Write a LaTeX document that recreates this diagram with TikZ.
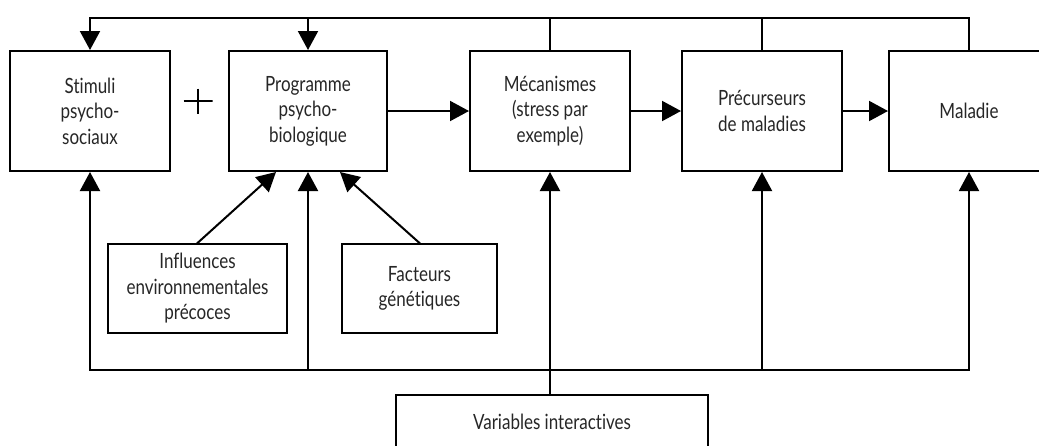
\documentclass[tikz,border=0pt]{standalone}
\usepackage{fontspec}
\setmainfont[FakeStretch=0.81, Ligatures=NoCommon]{Lato}
\usepackage{tikz}
\usetikzlibrary{arrows.meta, positioning, calc}

\begin{document}
\begin{tikzpicture}[x=1pt, y=-1pt,
  bloc/.style={draw, line width=2pt, minimum width=160pt, minimum height=120pt,
    align=center, inner sep=0pt, text=black!85, font=\fontsize{21}{25.5}\selectfont},
  fl/.style={-{Triangle[length=19pt,width=20pt]}, line width=2pt, line cap=rect},
  trait/.style={line width=2pt, line cap=rect},
  croix/.style={minimum width=29pt, minimum height=25pt, inner sep=0pt,
    path picture={\draw[line width=1.6pt]
      (path picture bounding box.north) -- (path picture bounding box.south)
      (path picture bounding box.west) -- (path picture bounding box.east);}}]
  \useasboundingbox (0,0) rectangle (1039,445);

  % Chaine principale
  \node[bloc] (stim) at (90,111) {Stimuli\\psycho-\\sociaux};
  \node[bloc, minimum width=158pt] (prog) at (308,111) {Programme\\psycho-\\biologique};
  \node[bloc] (meca) at (550,111) {Mécanismes\\(stress par\\exemple)};
  \node[bloc] (prec) at (762,111) {Précurseurs\\de maladies};
  \node[bloc] (mal) at (969,111) {Maladie};
  \node[croix] (plus) at (198,101) {};

  % Facteurs en amont
  \node[bloc, minimum width=179pt, minimum height=89pt] (infl) at (197.5,288.5) {Influences\\environnementales\\précoces};
  \node[bloc, minimum width=155pt, minimum height=89pt] (gen) at (419.5,288.5) {Facteurs\\génétiques};
  \node[bloc, minimum width=312pt, minimum height=54pt] (var) at (552,422) {Variables interactives};

  \coordinate (haut) at (0,18);
  \coordinate (bas) at (0,370);

  % Chaine
  \draw[fl] (prog.east) -- (meca.west);
  \draw[fl] (meca.east) -- (prec.west);
  \draw[fl] (prec.east) -- (mal.west);
  \draw[fl] (infl.north) -- ([xshift=-32pt]prog.south);
  \draw[fl] (gen.north) -- ([xshift=32pt]prog.south);

  % Retour par le haut
  \draw[trait] (stim.north |- haut) -- (mal.north |- haut) -- (mal.north);
  \draw[trait] (meca.north) -- (meca.north |- haut);
  \draw[trait] (prec.north) -- (prec.north |- haut);
  \draw[fl] (stim.north |- haut) -- (stim.north);
  \draw[fl] (prog.north |- haut) -- (prog.north);

  % Variables interactives
  \draw[trait] (stim.south |- bas) -- (mal.south |- bas);
  \foreach \n in {stim, prog, prec, mal}
    \draw[fl] (\n.south |- bas) -- (\n.south);
  \draw[fl] (meca.south |- var.north) -- (meca.south);
\end{tikzpicture}
\end{document}
